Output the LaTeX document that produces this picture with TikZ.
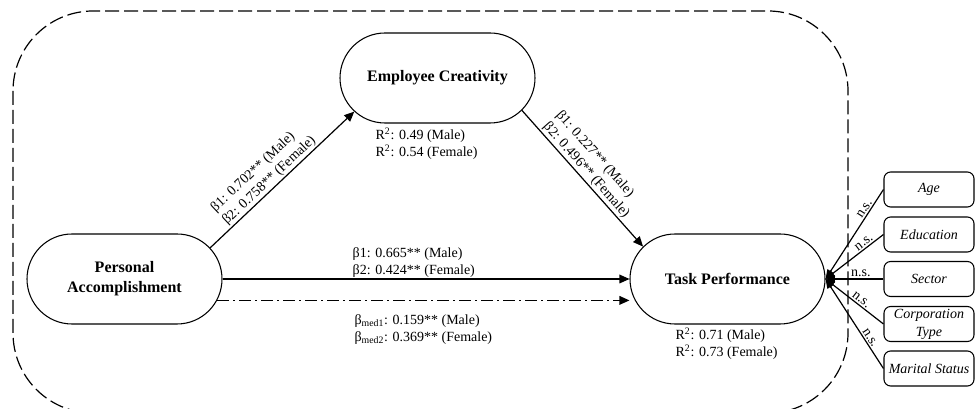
\documentclass[tikz,border=0pt]{standalone}
\usepackage{fontspec}
\setmainfont{Liberation Serif}
\usetikzlibrary{shapes.misc,arrows.meta}
\begin{document}
\begin{tikzpicture}[x=0.75pt,y=-0.75pt,
  construct/.style={draw, line width=0.8pt, rounded rectangle, minimum width=146.25pt, minimum height=67.5pt, inner sep=0pt, align=center, font=\fontsize{12}{15}\selectfont\bfseries},
  ctrl/.style={draw, line width=0.8pt, rounded corners=5pt, minimum width=67.5pt, minimum height=26.25pt, inner sep=0pt, align=center, font=\fontsize{10.5}{13.5}\selectfont\itshape},
  lbl/.style={font=\fontsize{10.5}{12.75}\selectfont, inner sep=1pt},
  conn/.style={line width=0.9pt, -{Triangle[length=7.5pt,width=6.5pt]}},
  ctrlconn/.style={line width=0.9pt, -{Triangle[length=7pt,width=5.5pt]}},
  frame/.style={line width=0.9pt, dash pattern=on 10.5pt off 3.75pt, rounded corners=60pt}
]
\useasboundingbox (0,0) rectangle (976,409);
\draw[frame] (13,11) rectangle (848,413);

\node[construct] (PA) at (124.5,279) {Personal\\Accomplishment};
\node[construct] (EC) at (437.5,78) {Employee Creativity};
\node[construct] (TP) at (727.5,279) {Task Performance};

\node[ctrl] (age) at (929,189.5) {Age};
\node[ctrl] (edu) at (929,234.5) {Education};
\node[ctrl] (sec) at (929,279) {Sector};
\node[ctrl] (corp) at (929,324) {Corporation\\Type};
\node[ctrl] (mar) at (929,368.5) {Marital Status};

\draw[conn] (PA.20.5) -- node[lbl, pos=0.45, sloped, above, align=left] {β1: 0.702** (Male)\\β2: 0.758** (Female)} (EC.202);
\draw[conn] (EC.339) -- node[lbl, pos=0.48, sloped, above, align=left] {β1: 0.227** (Male)\\β2: 0.496** (Female)} (TP.159.3);
\draw[conn] (PA.east) -- node[lbl, pos=0.47, above, align=left] {β1: 0.665** (Male)\\β2: 0.424** (Female)} (TP.west);
\draw[conn, dash pattern=on 9pt off 3pt on 1.5pt off 3pt] (PA.-13.5) -- node[lbl, pos=0.5, anchor=north, yshift=-9pt, align=left] {β\textsubscript{med1}: 0.159** (Male)\\β\textsubscript{med2}: 0.369** (Female)} (PA.-13.5 -| TP.west);

\node[lbl, align=left, anchor=west] (r2ec) at (374,143.5) {R\textsuperscript{2}: 0.49 (Male)\\R\textsuperscript{2}: 0.54 (Female)};
\node[lbl, align=left, anchor=west] (r2tp) at (674,344) {R\textsuperscript{2}: 0.71 (Male)\\R\textsuperscript{2}: 0.73 (Female)};

\draw[ctrlconn] (age.west) -- node[lbl, pos=0.25, sloped, above] {n.s.} (TP.east);
\draw[ctrlconn] (edu.west) -- node[lbl, pos=0.28, sloped, above] {n.s.} (TP.east);
\draw[ctrlconn] (sec.west) -- node[lbl, pos=0.39, sloped, above] {n.s.} (TP.east);
\draw[ctrlconn] (corp.west) -- node[lbl, pos=0.44, sloped, above] {n.s.} (TP.east);
\draw[ctrlconn] (mar.west) -- node[lbl, pos=0.31, sloped, above] {n.s.} (TP.east);
\end{tikzpicture}
\end{document}
